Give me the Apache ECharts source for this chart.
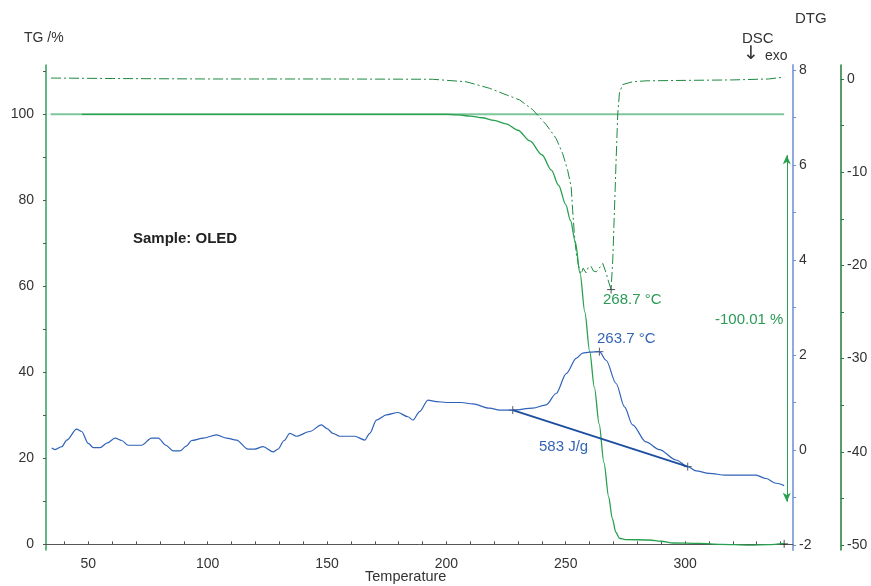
<!DOCTYPE html>
<html>
<head>
<meta charset="utf-8">
<script src="https://cdn.jsdelivr.net/npm/echarts@6/dist/echarts.min.js"></script>
<style>html,body{margin:0;padding:0;background:#fff}#c{width:871px;height:586px}</style>
</head>
<body>
<div id="c"></div>
<script>
// ---- data ----
const tgCurve = [[47.3,100],[150,100],[200,100],[205,99.85],[210,99.6],[215,99.2],[220,98.6],[225,97.8],[230,96.3],[235,93.8],[240,90.6],[244,87],[247,83.5],[250,79],[252,75.3],[254,70.3],[256,63],[258,54],[260,45],[262,36.5],[264,28],[266,19],[268,11],[269.5,6],[271,2.8],[272.5,1.4],[275,1.1],[285,1.0],[290,0.7],[295,0.3],[305.9,0.2],[315,0.0],[326.9,-0.2],[335,-0.1],[341.5,0.2]];
const tgReference = [[34.2,100],[341.5,100]];
const dtgCurve = [[34.4,0.1],[60,0.05],[100,0.0],[150,0.0],[194.2,-0.03],[208.3,-0.3],[218.1,-1.0],[225.1,-1.7],[230.7,-2.25],[236.2,-3.3],[241.8,-4.9],[246,-6.4],[248.7,-8.0],[250.8,-9.8],[252.3,-11.6],[252.9,-14.1],[253.6,-16.6],[254.4,-18.7],[255.7,-20.5],[256.5,-20.9],[257.3,-20.3],[258.5,-20.8],[259.5,-20.2],[260.6,-20.1],[261.6,-20.6],[262.7,-20.7],[264,-20.3],[265.5,-19.8],[266.9,-20.8],[268,-21.8],[269,-22.6],[269.7,-19.4],[270.4,-14.1],[271.1,-8.7],[271.8,-3.7],[272.5,-1.5],[273.8,-0.6],[278,-0.3],[283.6,-0.2],[300,-0.15],[320,-0.1],[335,0.0],[341.5,0.2]];
const dscCurve = [[34.7,0.04],[36.1,0.01],[38.9,0.07],[41,0.21],[45.1,0.44],[47.2,0.39],[50,0.14],[52.1,0.05],[54.9,0.05],[58,0.15],[61.2,0.25],[64,0.2],[66.7,0.1],[72.3,0.1],[76.5,0.25],[79.3,0.25],[82.5,0.1],[85.6,-0.02],[88.4,-0.02],[91,0.08],[93.3,0.2],[98.1,0.25],[103.7,0.32],[107.9,0.25],[112.1,0.21],[116.9,0.02],[119.7,0.02],[123.2,0.07],[127.4,-0.04],[129.5,0.02],[132,0.2],[134.4,0.35],[137.2,0.29],[142.8,0.39],[147.7,0.53],[150,0.45],[152.5,0.35],[155.3,0.29],[161.6,0.29],[165.8,0.21],[167.9,0.35],[170.7,0.63],[174.9,0.74],[179.7,0.79],[183.9,0.7],[186,0.63],[188.8,0.81],[192.3,1.05],[195.8,1.02],[200,1.0],[206.2,1.0],[211.1,0.97],[218.1,0.88],[222.3,0.84],[227.8,0.84],[236.2,0.88],[241.8,0.95],[246,1.19],[250.2,1.61],[254.4,1.93],[257.1,2.04],[260,2.06],[264.1,2.07],[266.9,1.89],[271.1,1.4],[274.6,0.91],[278,0.53],[283.6,0.17],[289.2,0.01],[296.2,-0.21],[301.1,-0.35],[304.6,-0.44],[310.1,-0.49],[317.1,-0.53],[329.7,-0.53],[333.9,-0.6],[338.1,-0.7],[341.5,-0.75]];
const dscBaseline = [[227.8,0.84],[301.1,-0.35]];
const dscMarkers = [[264.1,2.07],[227.8,0.84],[301.1,-0.35]];
const dtgMarkers = [[269,-22.6]];
const tgMarkers = [[341.5,0.1]];
const massChangeArrow = [[342.6,90.5],[342.6,9.9]];

const xLabels = [50,100,150,200,250,300];
const xTicks = [40,50,60,70,80,90,100,110,120,130,140,150,160,170,180,190,200,210,220,230,240,250,260,270,280,290,300,310,320,330,340];
const tgLabels = [0,20,40,60,80,100];
const tgTicks = [0,10,20,30,40,50,60,70,80,90,100,110];
const dscLabels = [-2,0,2,4,6,8];
const dscTicks = [-2,-1,0,1,2,3,4,5,6,7,8];
const dtgLabels = [-50,-40,-30,-20,-10,0];
const dtgTicks = [-50,-45,-40,-35,-30,-25,-20,-15,-10,-5,0];

// ---- chart ----
const FONT = '"Liberation Sans", Arial, sans-serif';
const GREEN = '#27a050';
const DGREEN = '#1d8a40';
const BLUE = '#2f62b8';
const plus = 'path://M0,5L10,5M5,0L5,10';

const chart = echarts.init(document.getElementById('c'), null, {renderer:'canvas'});
chart.setOption({
  animation: false,
  backgroundColor: '#fff',
  textStyle: {fontFamily: FONT},
  grid: {left: 46, right: 78, top: 65, bottom: 36, containLabel: false},
  xAxis: {
    type: 'value', min: 32.28, max: 345.2,
    axisLine: {show: true, lineStyle: {color: '#555', width: 1}},
    axisTick: {show: true, inside: true, length: 3, customValues: xTicks, lineStyle: {color: '#555'}},
    axisLabel: {customValues: xLabels, color: '#333', fontSize: 14, margin: 7, fontFamily: FONT},
    splitLine: {show: false}
  },
  yAxis: [
    {
      type: 'value', min: -1.33, max: 111.47, position: 'left',
      axisLine: {show: true, lineStyle: {color: '#2ca05a', width: 1.5}},
      axisTick: {show: true, length: 3, customValues: tgTicks, lineStyle: {color: '#555'}},
      axisLabel: {customValues: tgLabels, color: '#333', fontSize: 14, margin: 12, fontFamily: FONT},
      splitLine: {show: false}
    },
    {
      type: 'value', min: -2.105, max: 8.105, position: 'right', offset: 0,
      axisLine: {show: true, lineStyle: {color: '#8eaadf', width: 2}},
      axisTick: {show: true, length: 3, customValues: dscTicks, lineStyle: {color: '#6f90d0'}},
      axisLabel: {customValues: dscLabels, color: '#333', fontSize: 14, margin: 6, fontFamily: FONT},
      splitLine: {show: false}
    },
    {
      type: 'value', min: -50.54, max: 1.5, position: 'right', offset: 48,
      axisLine: {show: true, lineStyle: {color: '#1e7d3a', width: 1.5}},
      axisTick: {show: true, length: 3, customValues: dtgTicks, lineStyle: {color: '#1e7d3a'}},
      axisLabel: {customValues: dtgLabels, color: '#333', fontSize: 14, margin: 6, fontFamily: FONT},
      splitLine: {show: false}
    }
  ],
  series: [
    {type: 'line', name: 'TG ref', yAxisIndex: 0, data: tgReference, symbol: 'none',
     lineStyle: {color: '#80c69b', width: 2}, silent: true},
    {type: 'line', name: 'DTG', yAxisIndex: 2, data: dtgCurve, symbol: 'none',
     lineStyle: {color: DGREEN, width: 1, type: [10,3,2,3]}, silent: true},
    {type: 'line', name: 'TG', yAxisIndex: 0, data: tgCurve, symbol: 'none', smooth: 0.3, smoothMonotone: 'x',
     lineStyle: {color: GREEN, width: 1.3}, silent: true,
     markLine: {silent: true, symbol: ['arrow','arrow'], symbolSize: [6,9],
       lineStyle: {color: GREEN, width: 1, type: 'solid'}, label: {show: false},
       data: [[{coord: massChangeArrow[0]}, {coord: massChangeArrow[1]}]]}},
    {type: 'line', name: 'DSC', yAxisIndex: 1, data: dscCurve, symbol: 'none', smooth: 0.3, smoothMonotone: 'x',
     lineStyle: {color: BLUE, width: 1.2}, silent: true},
    {type: 'line', name: 'DSC baseline', yAxisIndex: 1, data: dscBaseline, symbol: 'none',
     lineStyle: {color: '#1d4fa0', width: 2}, silent: true},
    {type: 'scatter', yAxisIndex: 1, data: dscMarkers, symbol: plus, symbolSize: 8,
     itemStyle: {color: 'none', borderColor: '#333', borderWidth: 1}, silent: true},
    {type: 'scatter', yAxisIndex: 2, data: dtgMarkers, symbol: plus, symbolSize: 8,
     itemStyle: {color: 'none', borderColor: '#222', borderWidth: 1}, silent: true},
    {type: 'scatter', yAxisIndex: 0, data: tgMarkers, symbol: plus, symbolSize: 8,
     itemStyle: {color: 'none', borderColor: '#222', borderWidth: 1}, silent: true}
  ],
  graphic: [
    {type: 'text', left: 24, top: 31, style: {text: 'TG /%', font: '14px ' + FONT, fill: '#333'}},
    {type: 'text', left: 795, top: 11, style: {text: 'DTG', font: '15px ' + FONT, fill: '#333'}},
    {type: 'text', left: 742, top: 31, style: {text: 'DSC', font: '15px ' + FONT, fill: '#333'}},
    {type: 'text', left: 743, top: 45, style: {text: '\u2193', font: '19px "DejaVu Sans", sans-serif', fill: '#333'}},
    {type: 'text', left: 765, top: 49, style: {text: 'exo', font: '14px ' + FONT, fill: '#333'}},
    {type: 'text', left: 365, top: 569, style: {text: 'Temperature', font: '14.5px ' + FONT, fill: '#333'}},
    {type: 'text', left: 133, top: 231, style: {text: 'Sample: OLED', font: 'bold 15px ' + FONT, fill: '#222'}},
    {type: 'text', left: 603, top: 292, style: {text: '268.7 \u00b0C', font: '15px ' + FONT, fill: '#2a9a55'}},
    {type: 'text', left: 597, top: 331, style: {text: '263.7 \u00b0C', font: '15px ' + FONT, fill: '#3465b5'}},
    {type: 'text', left: 539, top: 439, style: {text: '583 J/g', font: '15px ' + FONT, fill: '#3465b5'}},
    {type: 'text', left: 715, top: 312, style: {text: '-100.01 %', font: '15px ' + FONT, fill: '#2a9a55'}}
  ]
});
</script>
</body>
</html>
